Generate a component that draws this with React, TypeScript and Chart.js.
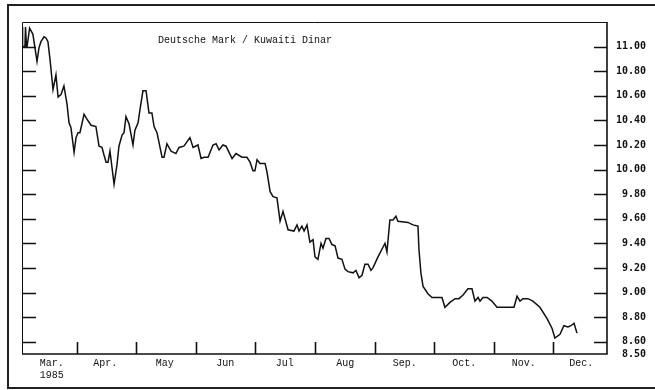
import React, { useEffect, useRef } from "react";
import { Chart, registerables } from "chart.js";

Chart.register(...registerables);

// x values: days counted from 1 March 1985 (Mar 1 = 0)
const days = [
  2.8, 3.1, 4.3, 4.6, 5.1, 5.4, 6.7, 7.4, 8.4, 10.5,
  11.5, 12.5, 14.1, 15.1, 16.1, 17.2, 18.7, 20.2, 21.3, 22.8,
  24.3, 25.9, 26.9, 27.9, 29.5, 30.5, 31.5, 32.5, 34.6, 36.1,
  38.2, 40.7, 42.3, 43.8, 44.8, 45.9, 46.9, 47.9, 50.0, 51.5,
  52.5, 54.1, 55.1, 56.1, 57.7, 59.7, 60.7, 62.3, 63.3, 64.8,
  66.4, 67.9, 69.4, 70.5, 72.0, 74.6, 75.6, 77.1, 79.2, 81.7,
  83.3, 85.8, 88.9, 90.5, 93.0, 94.6, 96.1, 98.2, 100.7, 102.3,
  103.8, 105.8, 107.4, 110.5, 112.5, 115.6, 118.1, 119.7, 121.2, 122.2,
  123.3, 124.8, 127.4, 128.4, 130.0, 131.5, 133.5, 135.1, 136.6, 139.2,
  142.2, 143.8, 144.8, 146.3, 147.4, 148.9, 150.4, 152.0, 153.0, 154.5,
  156.1, 157.1, 158.6, 160.2, 161.7, 163.3, 164.8, 166.8, 168.4, 169.9,
  172.5, 174.0, 175.6, 177.1, 178.6, 180.2, 181.7, 182.7, 185.3, 187.9,
  188.9, 189.9, 191.4, 193.0, 194.5, 195.5, 200.7, 203.2, 205.8, 206.3,
  207.3, 208.4, 210.9, 213.0, 218.1, 219.6, 222.2, 224.8, 226.8, 228.9,
  231.4, 233.5, 235.0, 236.6, 237.6, 239.1, 241.2, 243.7, 246.3, 248.9,
  255.0, 256.6, 258.1, 259.6, 262.2, 264.7, 268.3, 271.9, 274.5, 276.0,
  278.6, 280.6, 282.7, 284.2, 285.8, 287.3,
];

// Deutsche Mark per Kuwaiti Dinar
const rates = [
  11.16, 11.0, 11.0, 11.16, 11.0, 11.0, 11.15, 11.13, 11.1, 10.88,
  10.99, 11.04, 11.08, 11.07, 11.04, 10.89, 10.65, 10.77, 10.59, 10.61,
  10.68, 10.53, 10.38, 10.34, 10.14, 10.26, 10.3, 10.3, 10.45, 10.41,
  10.36, 10.35, 10.19, 10.18, 10.12, 10.06, 10.06, 10.15, 9.88, 10.04,
  10.19, 10.28, 10.3, 10.43, 10.37, 10.2, 10.32, 10.38, 10.49, 10.64,
  10.64, 10.46, 10.46, 10.35, 10.3, 10.1, 10.1, 10.21, 10.15, 10.13,
  10.18, 10.19, 10.26, 10.18, 10.2, 10.09, 10.1, 10.1, 10.2, 10.21,
  10.16, 10.2, 10.19, 10.09, 10.13, 10.1, 10.1, 10.06, 9.99, 9.99,
  10.08, 10.05, 10.05, 9.98, 9.82, 9.78, 9.77, 9.58, 9.66, 9.51,
  9.5, 9.55, 9.5, 9.54, 9.5, 9.55, 9.41, 9.43, 9.29, 9.27,
  9.4, 9.36, 9.44, 9.44, 9.39, 9.38, 9.28, 9.27, 9.19, 9.17,
  9.16, 9.18, 9.12, 9.14, 9.23, 9.23, 9.18, 9.2, 9.29, 9.37,
  9.4, 9.33, 9.59, 9.59, 9.62, 9.58, 9.57, 9.55, 9.54, 9.35,
  9.16, 9.05, 8.99, 8.96, 8.96, 8.88, 8.92, 8.95, 8.95, 8.98,
  9.03, 9.03, 8.93, 8.96, 8.93, 8.96, 8.96, 8.93, 8.88, 8.88,
  8.88, 8.97, 8.93, 8.95, 8.95, 8.93, 8.88, 8.79, 8.71, 8.63,
  8.66, 8.73, 8.72, 8.73, 8.75, 8.67,
];

const monthStarts = [31, 61, 92, 122, 153, 184, 214, 245, 275];
const monthLabelDays = [18, 45.5, 76, 107, 137.5, 168.5, 199, 229.5, 260, 289.5];
const monthLabels: (string | string[])[] = [
  ["Mar.", "1985"], "Apr.", "May", "Jun", "Jul", "Aug", "Sep.", "Oct.", "Nov.", "Dec.",
];
const yTickValues = [8.5, 8.6, 8.8, 9.0, 9.2, 9.4, 9.6, 9.8, 10.0, 10.2, 10.4, 10.6, 10.8, 11.0];
const yTickMarks = [8.6, 8.8, 9.0, 9.2, 9.4, 9.6, 9.8, 10.0, 10.2, 10.4, 10.6, 10.8, 11.0];
const titleText = "Deutsche Mark / Kuwaiti Dinar";
const X_MIN = 2.8;
const X_MAX = 302.7;
const Y_MIN = 8.5;
const Y_MAX = 11.2;

const INK = "#111";

const framePlugin = {
  id: "frame",
  afterDraw(chart: any) {
    const { ctx, chartArea: a, scales } = chart;
    const x = scales.x;
    const y = scales.y;
    ctx.save();
    ctx.strokeStyle = INK;
    ctx.lineCap = "butt";

    // plot box: thin top/left, heavier right/bottom axes
    ctx.lineWidth = 1;
    ctx.beginPath();
    ctx.moveTo(a.left + 0.5, a.bottom);
    ctx.lineTo(a.left + 0.5, a.top + 0.5);
    ctx.lineTo(a.right, a.top + 0.5);
    ctx.stroke();
    ctx.lineWidth = 1.6;
    ctx.beginPath();
    ctx.moveTo(a.right, a.top);
    ctx.lineTo(a.right, a.bottom);
    ctx.lineTo(a.left, a.bottom);
    ctx.stroke();

    // inward tick marks on both vertical sides
    ctx.lineWidth = 1.6;
    ctx.beginPath();
    for (const v of yTickMarks) {
      const py = Math.round(y.getPixelForValue(v)) + 0.5;
      ctx.moveTo(a.right - 13, py);
      ctx.lineTo(a.right, py);
      ctx.moveTo(a.left, py);
      ctx.lineTo(a.left + 14, py);
    }
    // month boundary ticks on the bottom axis
    for (const d of monthStarts) {
      const px = Math.round(x.getPixelForValue(d)) + 0.5;
      ctx.moveTo(px, a.bottom);
      ctx.lineTo(px, a.bottom - 12);
    }
    ctx.stroke();

    // title inside the plot
    ctx.fillStyle = INK;
    ctx.font = '10px "Liberation Mono"';
    ctx.textBaseline = "middle";
    ctx.textAlign = "left";
    ctx.fillText(titleText, a.left + 136, 40);

    // outer frame
    ctx.lineWidth = 2;
    ctx.strokeStyle = "#222";
    ctx.beginPath();
    ctx.moveTo(655, 5);
    ctx.lineTo(8, 5);
    ctx.lineTo(8, 388);
    ctx.lineTo(655, 388);
    ctx.stroke();
    ctx.restore();
  },
};

export default function App() {
  const ref = useRef<HTMLCanvasElement | null>(null);

  useEffect(() => {
    if (!ref.current) return;
    const chart = new Chart(ref.current, {
      type: "line",
      data: {
        datasets: [
          {
            label: titleText,
            data: days.map((d, i) => ({ x: d, y: rates[i] })),
            borderColor: INK,
            borderWidth: 1.5,
            pointRadius: 0,
            tension: 0,
            fill: false,
          },
        ],
      },
      options: {
        animation: false,
        responsive: false,
        devicePixelRatio: 1,
        layout: { padding: { left: 22, top: 22, right: 9, bottom: 0 } },
        plugins: {
          legend: { display: false },
          tooltip: { enabled: false },
          title: { display: false },
        },
        scales: {
          x: {
            type: "linear",
            position: "bottom",
            min: X_MIN,
            max: X_MAX,
            grid: { display: false, drawTicks: false },
            border: { display: false },
            afterBuildTicks: (s: any) => {
              s.ticks = monthLabelDays.map((v) => ({ value: v }));
            },
            afterFit: (s: any) => {
              s.height = 36;
            },
            ticks: {
              autoSkip: false,
              maxRotation: 0,
              minRotation: 0,
              padding: 3,
              color: INK,
              font: { family: '"Liberation Mono"', size: 10 },
              callback: (_v: any, i: number) => monthLabels[i],
            },
          },
          y: {
            type: "linear",
            position: "right",
            min: Y_MIN,
            max: Y_MAX,
            grid: { display: false, drawTicks: false },
            border: { display: false },
            afterBuildTicks: (s: any) => {
              s.ticks = yTickValues.map((v) => ({ value: v }));
            },
            afterFit: (s: any) => {
              s.width = 39;
            },
            ticks: {
              padding: 8,
              crossAlign: "far",
              color: INK,
              font: { family: '"DejaVu Sans Mono"', size: 10, weight: "bold" },
              callback: (v: any) => Number(v).toFixed(2),
            },
          },
        },
      },
      plugins: [framePlugin],
    } as any);
    return () => chart.destroy();
  }, []);

  return (
    <div style={{ position: "absolute", left: 0, top: 0, width: 655, height: 390, background: "#fff" }}>
      <canvas ref={ref} width={655} height={390} style={{ display: "block", width: 655, height: 390 }} />
    </div>
  );
}
